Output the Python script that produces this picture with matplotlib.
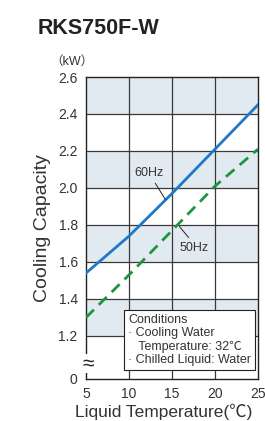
import matplotlib
matplotlib.use("Agg")
import matplotlib.pyplot as plt
import numpy as np

# data
temps = [5, 10, 15, 20, 25]
cap_60hz = [1.54, 1.74, 1.97, 2.21, 2.45]
cap_50hz = [1.30, 1.53, 1.77, 2.01, 2.21]
ytick_vals = [1.2, 1.4, 1.6, 1.8, 2.0, 2.2, 2.4, 2.6]
ytick_text = ["1.2", "1.4", "1.6", "1.8", "2.0", "2.2", "2.4", "2.6"]
band_ranges = [(1.2, 1.4), (1.6, 1.8), (2.0, 2.2), (2.4, 2.6)]
cond_lines = ["Conditions", "\u00b7 Cooling Water", "   Temperature: 32\u2103", "\u00b7 Chilled Liquid: Water"]

plt.rcParams['font.family'] = ['Liberation Sans', 'Noto Sans CJK JP', 'DejaVu Sans']
txt = '#333333'
grid_c = '#3a3a3a'

fig = plt.figure(figsize=(2.65, 4.21), dpi=100)
ax = fig.add_axes([0.3245, 0.0998, 0.6491, 0.7173])

ybot = 0.9676  # broken axis: "0" sits at the bottom
ax.set_xlim(5, 25)
ax.set_ylim(ybot, 2.6)

for lo, hi in band_ranges:
    ax.axhspan(lo, hi, color='#e1eaf1', zorder=0, lw=0)
for y in ytick_vals[:-1]:
    ax.axhline(y, color=grid_c, lw=0.9, zorder=1)
for x in [10, 15, 20]:
    ax.axvline(x, color=grid_c, lw=0.9, zorder=1)

ax.plot(temps, cap_60hz, color='#1f78c8', lw=2.0, zorder=3)
ax.plot(temps, cap_50hz, color='#1a9640', lw=2.0, ls=(0, (4, 2.5)), zorder=3)

# series labels with leader lines
ax.text(12.3, 2.08, "60Hz", fontsize=9, color=txt, ha='center', va='center', zorder=4)
ax.plot([13.06, 14.22], [2.025, 1.939], color='#222222', lw=0.7, zorder=4)
ax.text(17.56, 1.674, "50Hz", fontsize=9, color=txt, ha='center', va='center', zorder=4)
ax.plot([15.88, 16.92], [1.791, 1.733], color='#222222', lw=0.7, zorder=4)

ax.set_yticks([ybot] + ytick_vals)
ax.set_yticklabels(["0"] + ytick_text)
ax.set_xticks(temps)
ax.tick_params(length=0, labelsize=10, colors=txt, pad=6)
for s in ax.spines.values():
    s.set_color('#222222')
    s.set_linewidth(1.0)

# break mark on the y axis
ax.text(5.25, 1.05, "\u2248", fontsize=15, color='#222222', ha='center', va='center',
        transform=ax.transData, clip_on=False, zorder=5,
        bbox=dict(facecolor='white', edgecolor='none', pad=0.0))

fig.text(0.283, 0.022, "Liquid Temperature(\u2103)", fontsize=12.5, color=txt,
         ha='left', va='center')
ax.set_ylabel("Cooling Capacity", fontsize=14, color=txt, labelpad=5)
fig.text(0.19, 0.853, "\uff08kW\uff09", fontsize=9, color=txt, ha='left', va='center')
fig.text(0.143, 0.933, "RKS750F-W", fontsize=15.5, fontweight='bold', color='#222222',
         ha='left', va='center')

ax.text(0.245, 0.13, "\n".join(cond_lines), transform=ax.transAxes, fontsize=9,
        color=txt, ha='left', va='center', linespacing=1.15, zorder=6,
        bbox=dict(facecolor='white', edgecolor='#222222', lw=0.8, boxstyle='square,pad=0.3'))

fig.savefig("out.png", dpi=100)
